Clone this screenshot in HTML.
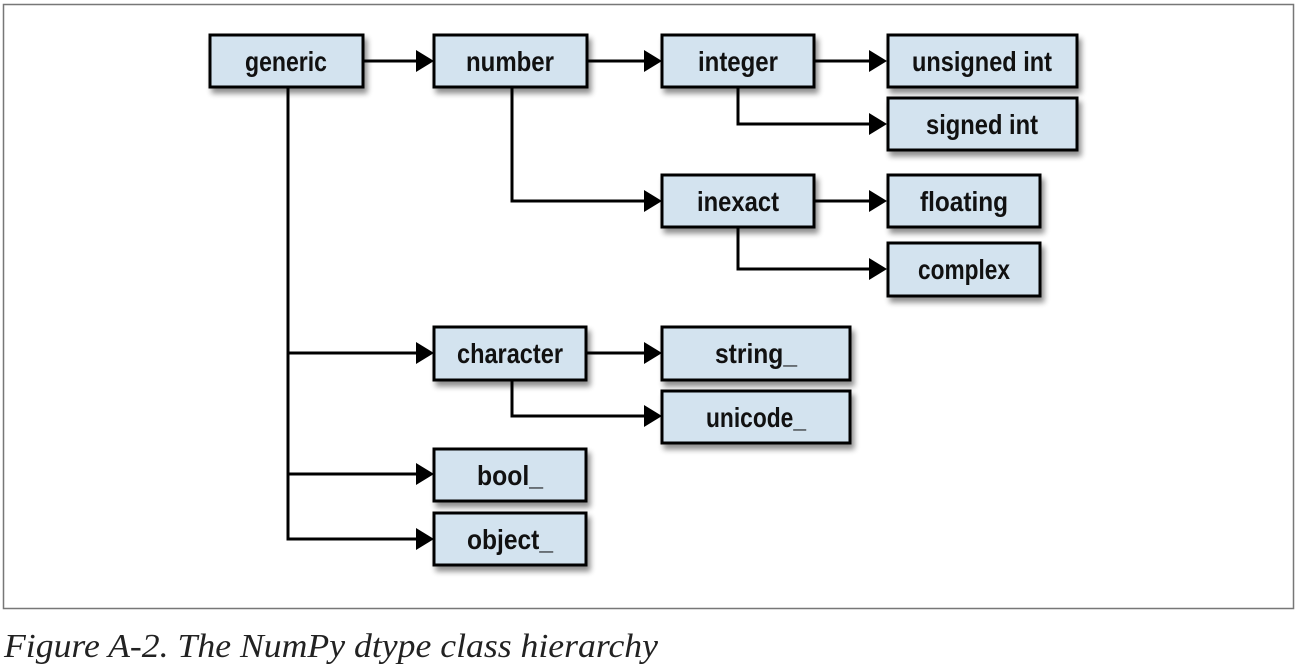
<!DOCTYPE html>
<html><head><meta charset="utf-8"><style>
html,body{margin:0;padding:0;background:#fff;width:1298px;height:668px;overflow:hidden}
</style></head><body>
<svg width="1298" height="668" viewBox="0 0 1298 668" xmlns="http://www.w3.org/2000/svg">
<defs>
<filter id="sh" x="-10%" y="-10%" width="130%" height="140%">
<feGaussianBlur in="SourceAlpha" stdDeviation="3"/>
<feOffset dx="3" dy="5"/>
<feComponentTransfer><feFuncA type="linear" slope="0.45"/></feComponentTransfer>
<feMerge><feMergeNode/><feMergeNode in="SourceGraphic"/></feMerge>
</filter>
</defs>
<rect x="3.5" y="4.5" width="1290" height="604" fill="none" stroke="#777" stroke-width="1.5"/>
<g stroke="#000" stroke-width="3" fill="none">
<path d="M363 61 H420"/>
<path d="M587 61 H648"/>
<path d="M814 61 H872"/>
<path d="M738 87 V124 H872"/>
<path d="M512 87 V201 H648"/>
<path d="M814 201 H872"/>
<path d="M738 227 V269 H872"/>
<path d="M288 87 V539 H420"/>
<path d="M288 353 H420"/>
<path d="M288 474 H420"/>
<path d="M587 353 H648"/>
<path d="M512 380 V416 H648"/>
</g>
<g fill="#000">
<polygon points="416,50 434,61 416,72"/>
<polygon points="644,50 662,61 644,72"/>
<polygon points="869,50 887,61 869,72"/>
<polygon points="869,113 887,124 869,135"/>
<polygon points="644,190 662,201 644,212"/>
<polygon points="869,190 887,201 869,212"/>
<polygon points="869,258 887,269 869,280"/>
<polygon points="416,342 434,353 416,364"/>
<polygon points="644,342 662,353 644,364"/>
<polygon points="644,405 662,416 644,427"/>
<polygon points="416,463 434,474 416,485"/>
<polygon points="416,528 434,539 416,550"/>
</g>
<g fill="#d3e3ef" stroke="#000" stroke-width="3" filter="url(#sh)">
<rect x="210" y="35" width="153" height="52"/>
<rect x="434" y="35" width="153" height="52"/>
<rect x="662" y="35" width="152" height="52"/>
<rect x="888" y="35" width="189" height="52"/>
<rect x="888" y="98" width="189" height="52"/>
<rect x="662" y="175" width="152" height="52"/>
<rect x="888" y="175" width="152" height="52"/>
<rect x="888" y="243" width="152" height="53"/>
<rect x="434" y="327" width="152" height="53"/>
<rect x="662" y="327" width="188" height="53"/>
<rect x="662" y="391" width="188" height="52"/>
<rect x="434" y="449" width="152" height="52"/>
<rect x="434" y="513" width="152" height="52"/>
</g>
<g font-family="'Liberation Sans', sans-serif" font-weight="bold" font-size="28" fill="#111" text-anchor="middle">
<text x="286" y="71" textLength="82" lengthAdjust="spacingAndGlyphs">generic</text>
<text x="510" y="71" textLength="88" lengthAdjust="spacingAndGlyphs">number</text>
<text x="738" y="71" textLength="80" lengthAdjust="spacingAndGlyphs">integer</text>
<text x="982" y="71" textLength="140" lengthAdjust="spacingAndGlyphs">unsigned int</text>
<text x="982" y="134" textLength="112" lengthAdjust="spacingAndGlyphs">signed int</text>
<text x="738" y="211" textLength="82" lengthAdjust="spacingAndGlyphs">inexact</text>
<text x="964" y="211" textLength="88" lengthAdjust="spacingAndGlyphs">floating</text>
<text x="964" y="279" textLength="92" lengthAdjust="spacingAndGlyphs">complex</text>
<text x="510" y="363" textLength="106" lengthAdjust="spacingAndGlyphs">character</text>
<text x="756" y="363" textLength="82" lengthAdjust="spacingAndGlyphs">string_</text>
<text x="756" y="427" textLength="100" lengthAdjust="spacingAndGlyphs">unicode_</text>
<text x="510" y="485" textLength="66" lengthAdjust="spacingAndGlyphs">bool_</text>
<text x="510" y="549" textLength="86" lengthAdjust="spacingAndGlyphs">object_</text>
</g>
<text x="4" y="657" font-family="'Liberation Serif', serif" font-style="italic" font-size="34" fill="#222" textLength="654" lengthAdjust="spacingAndGlyphs">Figure A-2. The NumPy dtype class hierarchy</text>
</svg>
</body></html>
